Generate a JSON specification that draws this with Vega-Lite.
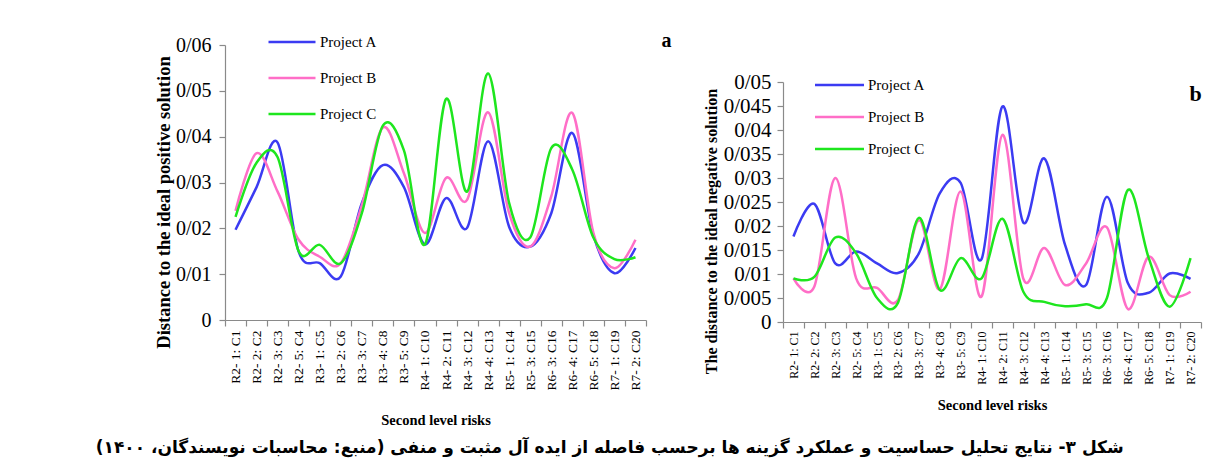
{
  "$schema": "https://vega.github.io/schema/vega-lite/v6.json",
  "background": "white",
  "padding": {"left": 89, "top": 29, "right": 5, "bottom": 5},
  "datasets": {
    "pos": [
      {"risk": "R2- 1: C1", "project": "Project A", "value": 0.0197},
      {"risk": "R2- 2: C2", "project": "Project A", "value": 0.029},
      {"risk": "R2- 3: C3", "project": "Project A", "value": 0.0387},
      {"risk": "R2- 5: C4", "project": "Project A", "value": 0.0149},
      {"risk": "R3- 1: C5", "project": "Project A", "value": 0.0124},
      {"risk": "R3- 2: C6", "project": "Project A", "value": 0.0095},
      {"risk": "R3- 3: C7", "project": "Project A", "value": 0.0255},
      {"risk": "R3- 4: C8", "project": "Project A", "value": 0.0338},
      {"risk": "R3- 5: C9", "project": "Project A", "value": 0.029},
      {"risk": "R4- 1: C10", "project": "Project A", "value": 0.0165},
      {"risk": "R4- 2: C11", "project": "Project A", "value": 0.0266},
      {"risk": "R4- 3: C12", "project": "Project A", "value": 0.0201},
      {"risk": "R4- 4: C13", "project": "Project A", "value": 0.039},
      {"risk": "R5- 1: C14", "project": "Project A", "value": 0.0203},
      {"risk": "R5- 3: C15", "project": "Project A", "value": 0.016},
      {"risk": "R6- 3: C16", "project": "Project A", "value": 0.0233},
      {"risk": "R6- 4: C17", "project": "Project A", "value": 0.0408},
      {"risk": "R6- 5: C18", "project": "Project A", "value": 0.0185},
      {"risk": "R7- 1: C19", "project": "Project A", "value": 0.0102},
      {"risk": "R7- 2: C20", "project": "Project A", "value": 0.0157},
      {"risk": "R2- 1: C1", "project": "Project B", "value": 0.0238},
      {"risk": "R2- 2: C2", "project": "Project B", "value": 0.0364},
      {"risk": "R2- 3: C3", "project": "Project B", "value": 0.028},
      {"risk": "R2- 5: C4", "project": "Project B", "value": 0.0175},
      {"risk": "R3- 1: C5", "project": "Project B", "value": 0.0138},
      {"risk": "R3- 2: C6", "project": "Project B", "value": 0.0124},
      {"risk": "R3- 3: C7", "project": "Project B", "value": 0.025},
      {"risk": "R3- 4: C8", "project": "Project B", "value": 0.042},
      {"risk": "R3- 5: C9", "project": "Project B", "value": 0.032},
      {"risk": "R4- 1: C10", "project": "Project B", "value": 0.019},
      {"risk": "R4- 2: C11", "project": "Project B", "value": 0.031},
      {"risk": "R4- 3: C12", "project": "Project B", "value": 0.0262},
      {"risk": "R4- 4: C13", "project": "Project B", "value": 0.0453},
      {"risk": "R5- 1: C14", "project": "Project B", "value": 0.0233},
      {"risk": "R5- 3: C15", "project": "Project B", "value": 0.016},
      {"risk": "R6- 3: C16", "project": "Project B", "value": 0.027},
      {"risk": "R6- 4: C17", "project": "Project B", "value": 0.0452},
      {"risk": "R6- 5: C18", "project": "Project B", "value": 0.019},
      {"risk": "R7- 1: C19", "project": "Project B", "value": 0.0113},
      {"risk": "R7- 2: C20", "project": "Project B", "value": 0.0175},
      {"risk": "R2- 1: C1", "project": "Project C", "value": 0.0225},
      {"risk": "R2- 2: C2", "project": "Project C", "value": 0.0343},
      {"risk": "R2- 3: C3", "project": "Project C", "value": 0.0355},
      {"risk": "R2- 5: C4", "project": "Project C", "value": 0.015},
      {"risk": "R3- 1: C5", "project": "Project C", "value": 0.0164},
      {"risk": "R3- 2: C6", "project": "Project C", "value": 0.0124},
      {"risk": "R3- 3: C7", "project": "Project C", "value": 0.0233},
      {"risk": "R3- 4: C8", "project": "Project C", "value": 0.0424},
      {"risk": "R3- 5: C9", "project": "Project C", "value": 0.037},
      {"risk": "R4- 1: C10", "project": "Project C", "value": 0.0165},
      {"risk": "R4- 2: C11", "project": "Project C", "value": 0.0482},
      {"risk": "R4- 3: C12", "project": "Project C", "value": 0.028},
      {"risk": "R4- 4: C13", "project": "Project C", "value": 0.0538},
      {"risk": "R5- 1: C14", "project": "Project C", "value": 0.0255},
      {"risk": "R5- 3: C15", "project": "Project C", "value": 0.018},
      {"risk": "R6- 3: C16", "project": "Project C", "value": 0.0375},
      {"risk": "R6- 4: C17", "project": "Project C", "value": 0.0328},
      {"risk": "R6- 5: C18", "project": "Project C", "value": 0.018},
      {"risk": "R7- 1: C19", "project": "Project C", "value": 0.0133},
      {"risk": "R7- 2: C20", "project": "Project C", "value": 0.0137}
    ],
    "neg": [
      {"risk": "R2- 1: C1", "project": "Project A", "value": 0.0178},
      {"risk": "R2- 2: C2", "project": "Project A", "value": 0.0246},
      {"risk": "R2- 3: C3", "project": "Project A", "value": 0.0122},
      {"risk": "R2- 5: C4", "project": "Project A", "value": 0.0147},
      {"risk": "R3- 1: C5", "project": "Project A", "value": 0.0122},
      {"risk": "R3- 2: C6", "project": "Project A", "value": 0.0102},
      {"risk": "R3- 3: C7", "project": "Project A", "value": 0.0143},
      {"risk": "R3- 4: C8", "project": "Project A", "value": 0.0268},
      {"risk": "R3- 5: C9", "project": "Project A", "value": 0.029},
      {"risk": "R4- 1: C10", "project": "Project A", "value": 0.0131},
      {"risk": "R4- 2: C11", "project": "Project A", "value": 0.0449},
      {"risk": "R4- 3: C12", "project": "Project A", "value": 0.0207},
      {"risk": "R4- 4: C13", "project": "Project A", "value": 0.0341},
      {"risk": "R5- 1: C14", "project": "Project A", "value": 0.016},
      {"risk": "R5- 3: C15", "project": "Project A", "value": 0.0077},
      {"risk": "R6- 3: C16", "project": "Project A", "value": 0.0261},
      {"risk": "R6- 4: C17", "project": "Project A", "value": 0.0081},
      {"risk": "R6- 5: C18", "project": "Project A", "value": 0.0061},
      {"risk": "R7- 1: C19", "project": "Project A", "value": 0.0101},
      {"risk": "R7- 2: C20", "project": "Project A", "value": 0.009},
      {"risk": "R2- 1: C1", "project": "Project B", "value": 0.0091},
      {"risk": "R2- 2: C2", "project": "Project B", "value": 0.0074},
      {"risk": "R2- 3: C3", "project": "Project B", "value": 0.03},
      {"risk": "R2- 5: C4", "project": "Project B", "value": 0.0091},
      {"risk": "R3- 1: C5", "project": "Project B", "value": 0.0071},
      {"risk": "R3- 2: C6", "project": "Project B", "value": 0.0046},
      {"risk": "R3- 3: C7", "project": "Project B", "value": 0.0212},
      {"risk": "R3- 4: C8", "project": "Project B", "value": 0.0068},
      {"risk": "R3- 5: C9", "project": "Project B", "value": 0.0272},
      {"risk": "R4- 1: C10", "project": "Project B", "value": 0.0053},
      {"risk": "R4- 2: C11", "project": "Project B", "value": 0.039},
      {"risk": "R4- 3: C12", "project": "Project B", "value": 0.009},
      {"risk": "R4- 4: C13", "project": "Project B", "value": 0.0154},
      {"risk": "R5- 1: C14", "project": "Project B", "value": 0.0077},
      {"risk": "R5- 3: C15", "project": "Project B", "value": 0.0122},
      {"risk": "R6- 3: C16", "project": "Project B", "value": 0.0197},
      {"risk": "R6- 4: C17", "project": "Project B", "value": 0.0027},
      {"risk": "R6- 5: C18", "project": "Project B", "value": 0.0136},
      {"risk": "R7- 1: C19", "project": "Project B", "value": 0.0056},
      {"risk": "R7- 2: C20", "project": "Project B", "value": 0.0063},
      {"risk": "R2- 1: C1", "project": "Project C", "value": 0.0091},
      {"risk": "R2- 2: C2", "project": "Project C", "value": 0.0094},
      {"risk": "R2- 3: C3", "project": "Project C", "value": 0.0176},
      {"risk": "R2- 5: C4", "project": "Project C", "value": 0.0143},
      {"risk": "R3- 1: C5", "project": "Project C", "value": 0.005},
      {"risk": "R3- 2: C6", "project": "Project C", "value": 0.004},
      {"risk": "R3- 3: C7", "project": "Project C", "value": 0.0217},
      {"risk": "R3- 4: C8", "project": "Project C", "value": 0.0067},
      {"risk": "R3- 5: C9", "project": "Project C", "value": 0.0133},
      {"risk": "R4- 1: C10", "project": "Project C", "value": 0.0091},
      {"risk": "R4- 2: C11", "project": "Project C", "value": 0.0215},
      {"risk": "R4- 3: C12", "project": "Project C", "value": 0.0063},
      {"risk": "R4- 4: C13", "project": "Project C", "value": 0.0042},
      {"risk": "R5- 1: C14", "project": "Project C", "value": 0.0033},
      {"risk": "R5- 3: C15", "project": "Project C", "value": 0.0037},
      {"risk": "R6- 3: C16", "project": "Project C", "value": 0.005},
      {"risk": "R6- 4: C17", "project": "Project C", "value": 0.0275},
      {"risk": "R6- 5: C18", "project": "Project C", "value": 0.0133},
      {"risk": "R7- 1: C19", "project": "Project C", "value": 0.0032},
      {"risk": "R7- 2: C20", "project": "Project C", "value": 0.0133}
    ]
  },
  "title": {
    "text": "\u200fشکل ۳- نتایج تحلیل حساسیت و عملکرد گزینه ها برحسب فاصله از  ایده آل مثبت و منفی (منبع: محاسبات نویسندگان، ۱۴۰۰)\u200f",
    "orient": "bottom",
    "anchor": "end",
    "font": "DejaVu Sans",
    "fontSize": 17,
    "fontWeight": "bold",
    "color": "black",
    "offset": 13,
    "dx": -78
  },
  "spacing": 31,
  "resolve": {"legend": {"color": "independent"}},
  "hconcat": [
    {
      "width": 421,
      "height": 275,
      "layer": [
        {
          "data": {"name": "pos"},
          "mark": {"type": "line", "interpolate": "cardinal", "strokeWidth": 2.5},
          "encoding": {
            "x": {
              "field": "risk", "type": "nominal", "sort": null, "bandPosition": 0.5,
              "scale": {"type": "band", "paddingInner": 0, "paddingOuter": 0},
              "title": "Second level risks",
              "axis": {"labelAngle": 270, "labelFontSize": 13.5, "tickBand": "extent", "tickSize": 6, "labelPadding": 4, "titlePadding": 23, "titleFontSize": 14.5}
            },
            "y": {
              "field": "value", "type": "quantitative",
              "scale": {"domain": [0, 0.06], "nice": false},
              "title": "Distance to the ideal positive solution",
              "axis": {"values": [0, 0.01, 0.02, 0.03, 0.04, 0.05, 0.06], "tickCount": 20, "labelOverlap": false, "labelExpr": "datum.value == 0 ? '0' : replace(format(datum.value, '.3~f'), '.', '/')", "labelFontSize": 20, "tickSize": 6, "labelPadding": 8, "titlePadding": 2, "titleY": 157, "titleFontSize": 18.5}
            },
            "color": {
              "field": "project", "type": "nominal",
              "scale": {"domain": ["Project A", "Project B", "Project C"], "range": ["#3b3bf2", "#ff6ec7", "#1ee61e"]},
              "legend": {"legendX": 54, "legendY": -16, "rowPadding": 15, "symbolType": "M-2,0H2", "symbolSize": 552, "labelOffset": 15}
            }
          }
        },
        {
          "data": {"values": [{"label": "a"}]},
          "mark": {"type": "text", "font": "Liberation Serif", "fontSize": 20, "fontWeight": "bold", "baseline": "middle", "align": "center", "dx": 31, "dy": -4},
          "encoding": {
            "x": {"datum": "R7- 2: C20"},
            "y": {"datum": 0.06},
            "text": {"field": "label"}
          }
        }
      ]
    },
    {
      "spacing": 0,
      "resolve": {"legend": {"color": "independent"}},
      "vconcat": [
        {
          "width": 418,
          "height": 26,
          "data": {"values": []},
          "mark": {"type": "point", "opacity": 0}
        },
        {
          "width": 418,
          "height": 240,
          "layer": [
            {
              "data": {"name": "neg"},
              "mark": {"type": "line", "interpolate": "cardinal", "strokeWidth": 2.5},
              "encoding": {
                "x": {
                  "field": "risk", "type": "nominal", "sort": null, "bandPosition": 0.5,
                  "scale": {"type": "band", "paddingInner": 0, "paddingOuter": 0},
                  "title": "Second level risks",
                  "axis": {"labelAngle": 270, "labelFontSize": 12, "tickBand": "extent", "tickSize": 6, "labelPadding": 3, "titlePadding": 14, "titleFontSize": 14.5}
                },
                "y": {
                  "field": "value", "type": "quantitative",
                  "scale": {"domain": [0, 0.05], "nice": false},
                  "title": "The distance to the ideal negative solution",
                  "axis": {"values": [0, 0.005, 0.01, 0.015, 0.02, 0.025, 0.03, 0.035, 0.04, 0.045, 0.05], "tickCount": 20, "labelOverlap": false, "labelExpr": "datum.value == 0 ? '0' : replace(format(datum.value, '.3~f'), '.', '/')", "labelFontSize": 21, "tickSize": 6, "labelPadding": 6, "titlePadding": 4, "titleY": 149, "titleFontSize": 16}
                },
                "color": {
                  "field": "project", "type": "nominal",
                  "scale": {"domain": ["Project A", "Project B", "Project C"], "range": ["#3b3bf2", "#ff6ec7", "#1ee61e"]},
                  "legend": {"legendX": 43, "legendY": -10.5, "rowPadding": 10, "symbolType": "M-2,0H2", "symbolSize": 600, "labelOffset": 15}
                }
              }
            },
            {
              "data": {"values": [{"label": "b"}]},
              "mark": {"type": "text", "font": "Liberation Serif", "fontSize": 22, "fontWeight": "bold", "baseline": "middle", "align": "center", "dx": 5, "dy": 12},
              "encoding": {
                "x": {"datum": "R7- 2: C20"},
                "y": {"datum": 0.05},
                "text": {"field": "label"}
              }
            }
          ]
        }
      ]
    }
  ],
  "config": {
    "font": "Liberation Serif",
    "view": {"stroke": null},
    "axis": {
      "grid": false,
      "domainColor": "#8a8a8a",
      "tickColor": "#8a8a8a",
      "domainWidth": 1.2,
      "tickWidth": 1.2,
      "labelColor": "black",
      "titleColor": "black",
      "labelFont": "Liberation Serif",
      "titleFont": "Liberation Serif",
      "titleFontSize": 14,
      "titleFontWeight": "bold"
    },
    "legend": {
      "orient": "none",
      "title": null,
      "symbolStrokeWidth": 2.5,
      "symbolFillColor": "transparent",
      "labelFont": "Liberation Serif",
      "labelFontSize": 15,
      "labelColor": "black",
      "padding": 0
    }
  }
}
